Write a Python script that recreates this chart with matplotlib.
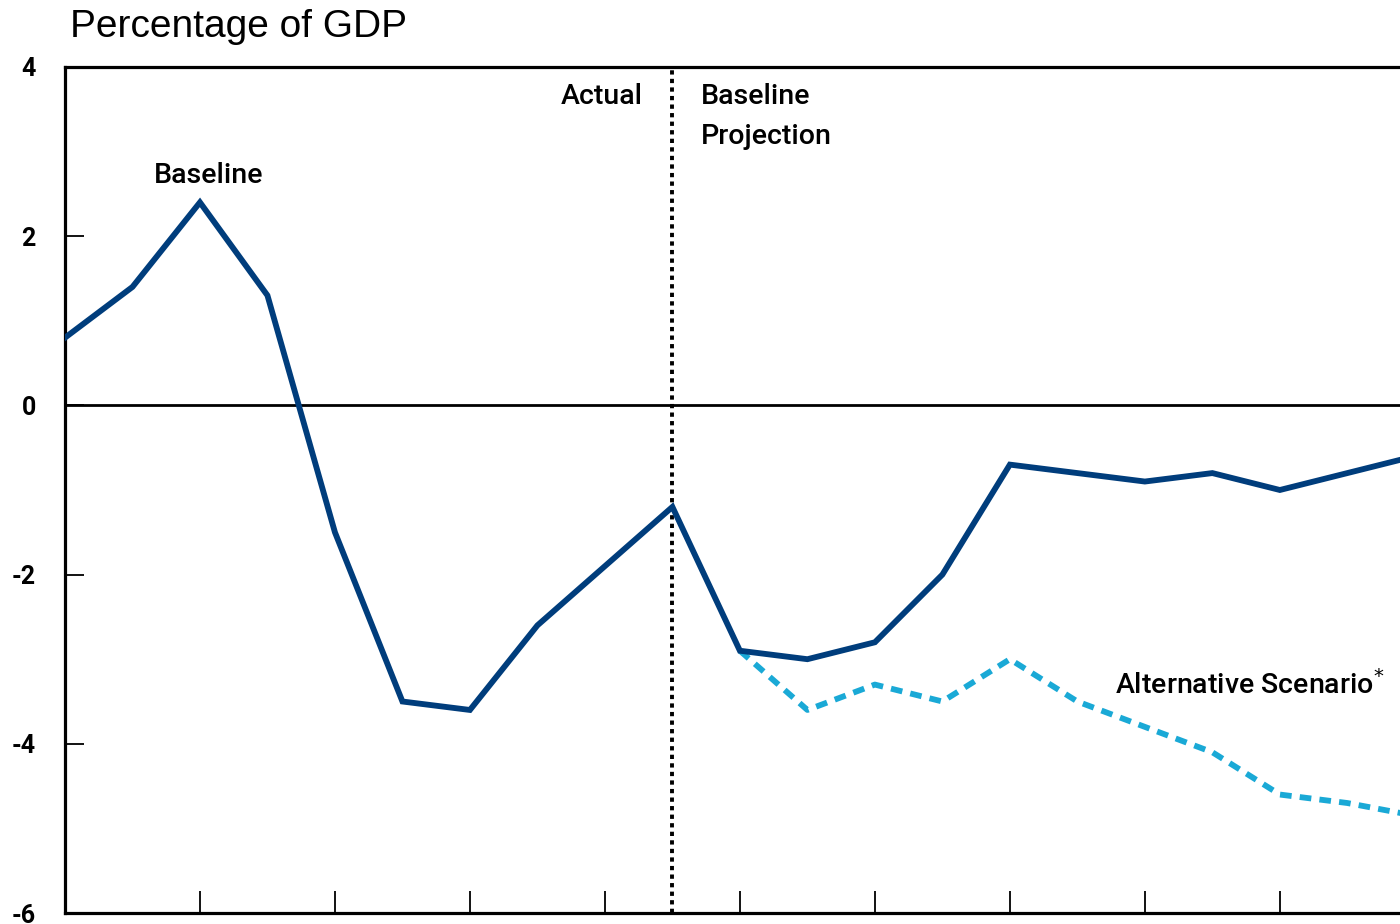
import matplotlib.pyplot as plt

# deficit/surplus as percentage of GDP
years = list(range(1998, 2019))
baseline = [0.8, 1.4, 2.4, 1.3, -1.5, -3.5, -3.6, -2.6, -1.9, -1.2,
            -2.9, -3.0, -2.8, -2.0, -0.7, -0.8, -0.9, -0.8, -1.0, -0.8, -0.6]
alt_years = list(range(2008, 2019))
alternative = [-2.9, -3.6, -3.3, -3.5, -3.0, -3.5, -3.8, -4.1, -4.6, -4.7, -4.85]
yticks = [4, 2, 0, -2, -4, -6]
xticks = list(range(2000, 2018, 2))
split_year = 2007

navy = '#003d7c'
cyan = '#1aa9d6'
ann_font = ['Roboto', 'DejaVu Sans']

fig = plt.figure(figsize=(14, 9.24), dpi=100)
ax = fig.add_axes([0.0464, 0.0119, 0.9536, 0.9156])

ax.plot(years, baseline, color=navy, lw=4.2, solid_joinstyle='miter', zorder=4)
ax.plot(alt_years, alternative, color=cyan, lw=4.2, ls=(0, (2.0, 1.4)), zorder=3)
ax.axhline(0, color='black', lw=2.0, zorder=2)
ax.axvline(split_year, color='black', lw=2.8, ls=(0, (1.1, 1.1)), zorder=2)

ax.set_xlim(1998, 2017.78)
ax.set_ylim(-6, 4)
ax.set_yticks(yticks)
ax.set_yticklabels([str(t) for t in yticks], fontsize=18, fontweight='bold',
                   family=ann_font)
ax.set_xticks(xticks)
ax.set_xticklabels([])
ax.tick_params(axis='y', direction='in', length=14, width=1.3, pad=21)
ax.tick_params(axis='x', direction='in', length=16, width=1.3)

for s in ['left', 'bottom', 'top']:
    ax.spines[s].set_linewidth(2.3)
ax.spines['right'].set_visible(False)

fig.text(0.05, 0.971, 'Percentage of GDP', fontsize=28, family='Liberation Sans',
         va='center', ha='left')

ax.text(2000.13, 2.72, 'Baseline', fontsize=20.5, family=ann_font, fontweight='medium',
        ha='center', va='center')
ax.text(2006.56, 3.65, 'Actual', fontsize=20.5, family=ann_font, fontweight='medium',
        ha='right', va='center')
ax.text(2007.42, 3.65, 'Baseline', fontsize=20.5, family=ann_font,
        fontweight='medium', ha='left', va='center')
ax.text(2007.42, 3.18, 'Projection', fontsize=20.5, family=ann_font,
        fontweight='medium', ha='left', va='center')
ax.text(2015.56, -3.31, 'Alternative Scenario$^{*}$', fontsize=20.5, family=ann_font,
        fontweight='medium', ha='center', va='center')

fig.savefig('out.png', dpi=100)
